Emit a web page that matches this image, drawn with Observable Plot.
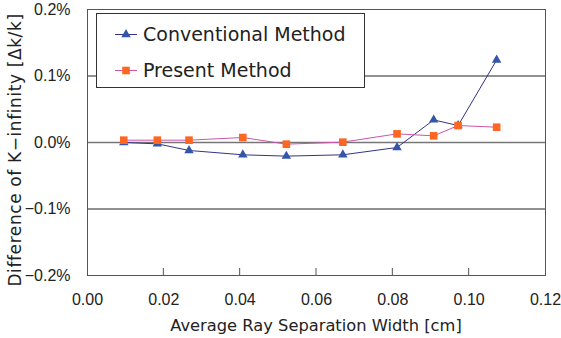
<!DOCTYPE html>
<html>
<head>
<meta charset="utf-8">
<script src="https://cdn.jsdelivr.net/npm/d3@7"></script>
<script src="https://cdn.jsdelivr.net/npm/@observablehq/plot@0.6"></script>
<style>
  html, body { margin: 0; padding: 0; background: #fff; }
  #chart svg { display: block; }
</style>
</head>
<body>
<div id="chart"></div>
<script>
// ---- data ----
const widths = [0.0095, 0.0183, 0.0266, 0.0407, 0.0521, 0.0669, 0.0811, 0.0907, 0.0971, 0.1072];
const conventional = [0.00000, -0.00002, -0.00012, -0.000185, -0.000205, -0.000185, -0.000075, 0.00034, 0.000255, 0.00124];
const present = [0.000035, 0.000035, 0.000035, 0.000075, -0.000025, 0.000005, 0.00013, 0.00010, 0.000255, 0.00023];
const seriesNames = ["Conventional Method", "Present Method"];
const xTicks = [0, 0.02, 0.04, 0.06, 0.08, 0.10, 0.12];
const yTicks = [-0.002, -0.001, 0, 0.001, 0.002];
const xTitle = "Average Ray Separation Width [cm]";
const yTitle = "Difference of K\u2212infinity [\u0394k/k]";

const convData = widths.map((x, i) => ({x, y: conventional[i]}));
const presData = widths.map((x, i) => ({x, y: present[i]}));

const convLine = "#333388", convMark = "#3355aa";
const presLine = "#cc55aa", presMark = "#ff6622";

const chart = Plot.plot({
  width: 561,
  height: 338,
  marginLeft: 87,
  marginRight: 16,
  marginTop: 9,
  marginBottom: 63,
  style: {fontFamily: "'Liberation Sans', Arial, sans-serif", fontSize: "16px", color: "#222", background: "#fff"},
  x: {domain: [0, 0.12]},
  y: {domain: [-0.002, 0.002]},
  marks: [
    Plot.gridY([-0.001, 0.001], {stroke: "#222", strokeOpacity: 1}),
    Plot.ruleY([0], {stroke: "#777", strokeWidth: 1.6}),
    Plot.frame({stroke: "#555"}),
    Plot.axisX(xTicks, {tickSize: 0, tickPadding: 18, tickFormat: d3.format(".2f"), label: null, fontSize: 16}),
    Plot.axisY(yTicks, {tickSize: 0, tickPadding: 17, tickFormat: d3.format(".1%"), label: null, fontSize: 16}),
    Plot.line(convData, {x: "x", y: "y", stroke: convLine, strokeWidth: 1}),
    Plot.dot(convData, {x: "x", y: "y", symbol: "triangle", r: 3.5, fill: convMark, stroke: "none"}),
    Plot.line(presData, {x: "x", y: "y", stroke: presLine, strokeWidth: 1}),
    Plot.dot(presData, {x: "x", y: "y", symbol: "square", r: 4.3, fill: presMark, stroke: "none"})
  ]
});
document.getElementById("chart").appendChild(chart);

const svg = d3.select(chart);
const sx = chart.scale("x"), sy = chart.scale("y");
const yBottom = sy.apply(-0.002), yTop = sy.apply(0.002);
const xLeft = sx.apply(0), xRight = sx.apply(0.12);

// inward tick marks on x axis
svg.append("g").selectAll("line").data(xTicks.slice(1, -1)).join("line")
  .attr("x1", d => sx.apply(d)).attr("x2", d => sx.apply(d))
  .attr("y1", yBottom).attr("y2", yBottom - 7)
  .attr("stroke", "#555");

// axis titles
svg.append("text")
  .attr("x", (xLeft + xRight) / 2).attr("y", 331)
  .attr("text-anchor", "middle")
  .style("font-family", "'DejaVu Sans', sans-serif").style("font-size", "16.3px").attr("fill", "#222")
  .text(xTitle);
svg.append("text")
  .attr("transform", `translate(21,${(yTop + yBottom) / 2 + 8}) rotate(-90)`)
  .attr("text-anchor", "middle")
  .style("font-family", "'DejaVu Sans', sans-serif").style("font-size", "17px")
  .style("letter-spacing", "0.6px").attr("fill", "#222")
  .text(yTitle);

// legend
const lg = svg.append("g");
lg.append("rect").attr("x", 96.5).attr("y", 13.5).attr("width", 268).attr("height", 74)
  .attr("fill", "#fff").attr("stroke", "#333").attr("stroke-width", 1);
const rows = [
  {name: seriesNames[0], line: convLine, mark: convMark, sym: d3.symbolTriangle, size: Math.PI * 3.5 * 3.5, y: 34.5},
  {name: seriesNames[1], line: presLine, mark: presMark, sym: d3.symbolSquare, size: Math.PI * 4.3 * 4.3, y: 70.5}
];
rows.forEach(r => {
  lg.append("line").attr("x1", 115).attr("x2", 137).attr("y1", r.y).attr("y2", r.y).attr("stroke", r.line);
  lg.append("path").attr("d", d3.symbol(r.sym, r.size)()).attr("transform", `translate(126,${r.y})`).attr("fill", r.mark);
  lg.append("text").attr("x", 143).attr("y", r.y).attr("dy", "0.36em")
    .attr("text-anchor", "start")
    .style("font-family", "'DejaVu Sans', sans-serif").style("font-size", "19px").attr("fill", "#222")
    .text(r.name);
});
</script>
</body>
</html>
